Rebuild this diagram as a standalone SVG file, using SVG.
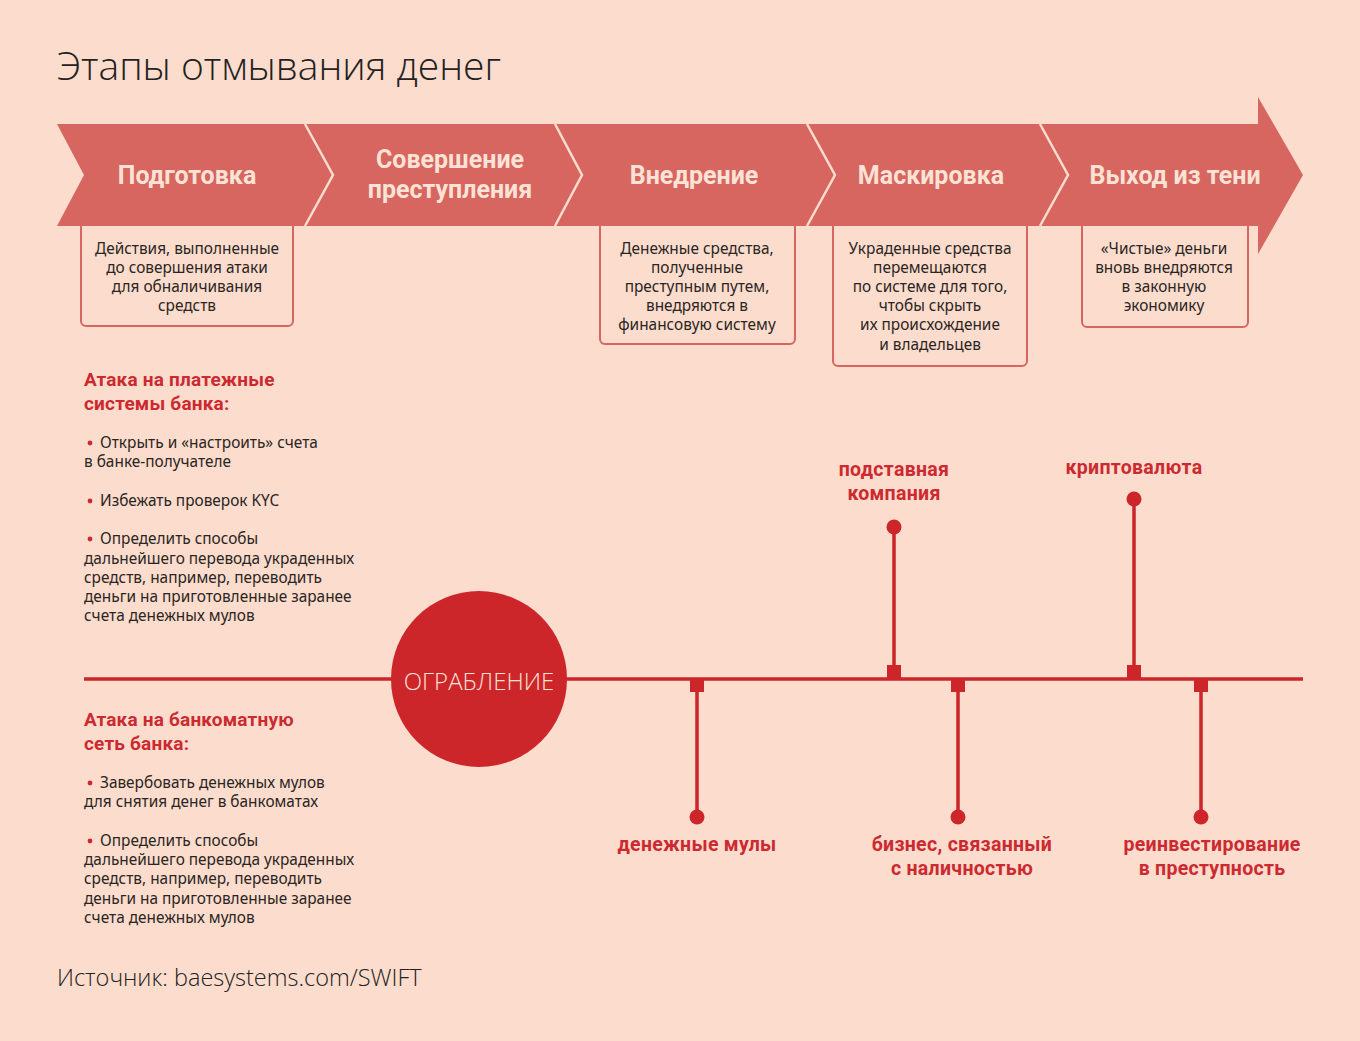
<svg xmlns="http://www.w3.org/2000/svg" width="1360" height="1041" viewBox="0 0 1360 1041">
<style>
.bg{fill:#fcdccd}
.band{fill:#d6665f}
.div{fill:none;stroke:#fcdccd;stroke-width:2.5}
.stage{font-family:Roboto,"Noto Sans",sans-serif;font-weight:700;font-size:25px;fill:#fde2d5;text-anchor:middle}
.box{fill:none;stroke:#d6665f;stroke-width:2}
.desc{font-family:"Noto Sans","Open Sans",sans-serif;font-size:15.4px;fill:#2a2522;text-anchor:middle}
.body{font-family:"Noto Sans","Open Sans",sans-serif;font-size:15.4px;fill:#2a2522}
.head{font-family:Roboto,"Noto Sans",sans-serif;font-weight:700;font-size:19px;letter-spacing:0.2px;fill:#cc2a30}
.bul{fill:#cc2a30}
.lab{font-family:Roboto,"Noto Sans",sans-serif;font-weight:700;font-size:19.5px;letter-spacing:0.3px;fill:#cc2a30;text-anchor:middle}
.tl{stroke:#cc252a;stroke-width:3.5;fill:none}
.dot{fill:#cc252a}
</style>
<rect class="bg" x="0" y="0" width="1360" height="1041"/>
<text x="57" y="80" font-family="'Open Sans',sans-serif" font-weight="300" font-size="39" fill="#222">Этапы отмывания денег</text>

<g id="band">
<polygon class="band" points="57,124 1258,124 1258,97 1303,175 1258,254 1258,226 57,226 84,175"/>
<polyline class="div" points="305,124 333,175 305,226"/>
<polyline class="div" points="555,124 582,175 555,226"/>
<polyline class="div" points="807,124 835,175 807,226"/>
<polyline class="div" points="1040,124 1068,175 1040,226"/>
</g>

<g id="stage1"><text class="stage" x="187" y="184">Подготовка</text>
<path class="box" d="M81,226 V321 a5,5 0 0 0 5,5 H288 a5,5 0 0 0 5,-5 V226"/>
<text class="desc" x="187" y="254">Действия, выполненные</text>
<text class="desc" x="187" y="273">до совершения атаки</text>
<text class="desc" x="187" y="292">для обналичивания</text>
<text class="desc" x="187" y="311">средств</text>
</g>
<g id="stage2"><text class="stage" x="450" y="168">Совершение</text><text class="stage" x="450" y="198">преступления</text></g>
<g id="stage3"><text class="stage" x="694" y="184">Внедрение</text>
<path class="box" d="M600,226 V339 a5,5 0 0 0 5,5 H790 a5,5 0 0 0 5,-5 V226"/>
<text class="desc" x="697" y="254">Денежные средства,</text>
<text class="desc" x="697" y="273">полученные</text>
<text class="desc" x="697" y="292">преступным путем,</text>
<text class="desc" x="697" y="311">внедряются в</text>
<text class="desc" x="697" y="330">финансовую систему</text>
</g>
<g id="stage4"><text class="stage" x="931" y="184">Маскировка</text>
<path class="box" d="M833,226 V361 a5,5 0 0 0 5,5 H1022 a5,5 0 0 0 5,-5 V226"/>
<text class="desc" x="930" y="254">Украденные средства</text>
<text class="desc" x="930" y="273">перемещаются</text>
<text class="desc" x="930" y="292">по системе для того,</text>
<text class="desc" x="930" y="311">чтобы скрыть</text>
<text class="desc" x="930" y="330">их происхождение</text>
<text class="desc" x="930" y="350">и владельцев</text>
</g>
<g id="stage5"><text class="stage" x="1175" y="184">Выход из тени</text>
<path class="box" d="M1082,226 V322 a5,5 0 0 0 5,5 H1243 a5,5 0 0 0 5,-5 V226"/>
<text class="desc" x="1164" y="254">«Чистые» деньги</text>
<text class="desc" x="1164" y="273">вновь внедряются</text>
<text class="desc" x="1164" y="292">в законную</text>
<text class="desc" x="1164" y="311">экономику</text>
</g>

<g id="payment-attack">
<text class="head" x="84" y="386">Атака на платежные</text>
<text class="head" x="84" y="410">системы банка:</text>
<circle class="bul" cx="90" cy="443" r="2.4"/>
<text class="body" x="100" y="448">Открыть и «настроить» счета</text>
<text class="body" x="84" y="467">в банке-получателе</text>
<circle class="bul" cx="90" cy="501" r="2.4"/>
<text class="body" x="100" y="506">Избежать проверок KYC</text>
<circle class="bul" cx="90" cy="539" r="2.4"/>
<text class="body" x="100" y="544">Определить способы</text>
<text class="body" x="84" y="564">дальнейшего перевода украденных</text>
<text class="body" x="84" y="583">средств, например, переводить</text>
<text class="body" x="84" y="602">деньги на приготовленные заранее</text>
<text class="body" x="84" y="621">счета денежных мулов</text>
</g>

<g id="atm-attack">
<text class="head" x="84" y="726">Атака на банкоматную</text>
<text class="head" x="84" y="750">сеть банка:</text>
<circle class="bul" cx="90" cy="783" r="2.4"/>
<text class="body" x="100" y="788">Завербовать денежных мулов</text>
<text class="body" x="84" y="807">для снятия денег в банкоматах</text>
<circle class="bul" cx="90" cy="841" r="2.4"/>
<text class="body" x="100" y="846">Определить способы</text>
<text class="body" x="84" y="865">дальнейшего перевода украденных</text>
<text class="body" x="84" y="884">средств, например, переводить</text>
<text class="body" x="84" y="904">деньги на приготовленные заранее</text>
<text class="body" x="84" y="923">счета денежных мулов</text>
</g>

<g id="connectors">
<line class="tl" x1="84" y1="679" x2="1303" y2="679"/>
<rect class="dot" x="887" y="665" width="14" height="14"/><line class="tl" x1="894" y1="527" x2="894" y2="666"/><circle class="dot" cx="894" cy="527" r="7.5"/>
<rect class="dot" x="1127" y="665" width="14" height="14"/><line class="tl" x1="1134" y1="499" x2="1134" y2="666"/><circle class="dot" cx="1134" cy="499" r="7.5"/>
<rect class="dot" x="690" y="679" width="14" height="13"/><line class="tl" x1="697" y1="690" x2="697" y2="817"/><circle class="dot" cx="697" cy="817" r="7.5"/>
<rect class="dot" x="951" y="679" width="14" height="13"/><line class="tl" x1="958" y1="690" x2="958" y2="817"/><circle class="dot" cx="958" cy="817" r="7.5"/>
<rect class="dot" x="1194" y="679" width="14" height="13"/><line class="tl" x1="1201" y1="690" x2="1201" y2="817"/><circle class="dot" cx="1201" cy="817" r="7.5"/>
</g>

<g id="robbery">
<circle cx="479" cy="679" r="88" fill="#cc252a"/>
<text x="479" y="690" text-anchor="middle" font-family="'Open Sans',sans-serif" font-weight="300" font-size="24" fill="#fde2d5">ОГРАБЛЕНИЕ</text>
</g>

<g id="labels">
<text class="lab" x="894" y="476">подставная</text>
<text class="lab" x="894" y="500">компания</text>
<text class="lab" x="1134" y="474">криптовалюта</text>
<text class="lab" x="697" y="851">денежные мулы</text>
<text class="lab" x="962" y="851">бизнес, связанный</text>
<text class="lab" x="962" y="875">с наличностью</text>
<text class="lab" x="1212" y="851">реинвестирование</text>
<text class="lab" x="1212" y="875">в преступность</text>
</g>

<text x="57" y="986" font-family="'Open Sans',sans-serif" font-weight="300" font-size="23.5" fill="#222">Источник: baesystems.com/SWIFT</text>
</svg>
